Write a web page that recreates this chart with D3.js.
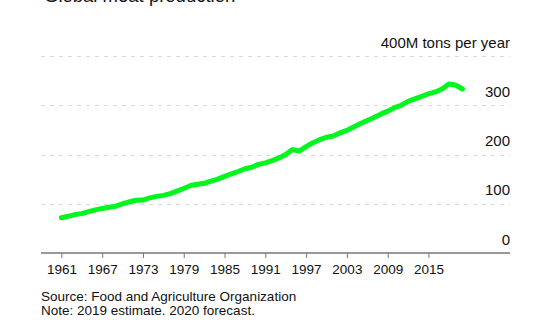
<!DOCTYPE html>
<html><head><meta charset="utf-8">
<script src="https://cdn.jsdelivr.net/npm/d3@7"></script>
<style>
html,body{margin:0;padding:0;background:#fff;}
svg text{font-family:"Liberation Sans",Arial,Helvetica,sans-serif;fill:#111;}
</style></head>
<body>
<svg id="c" width="545" height="325"></svg>
<script>
const title = "Global meat production";
const unitLabel = "400M tons per year";
const years = d3.range(1961, 2021);
const production = [71.5, 74.5, 78, 80, 84, 87.5, 90.5, 93, 95, 100,
  104, 107, 107.5, 112, 115, 117, 120.5, 125.5, 131, 137,
  139.5, 141.5, 146, 150, 155.5, 160.5, 165.5, 171, 174, 180,
  183, 187.5, 193, 200, 210, 207, 216, 224, 230, 235,
  237.5, 244, 249, 256, 263, 269, 275, 282, 288, 295,
  300, 308, 313, 318, 323, 327, 333, 343, 341, 333];
const yTicks = [0, 100, 200, 300, 400];
const yTickLabels = ["0", "100", "200", "300", "400M tons per year"];
const xTicks = [1961, 1967, 1973, 1979, 1985, 1991, 1997, 2003, 2009, 2015];
const sourceLines = ["Source: Food and Agriculture Organization", "Note: 2019 estimate. 2020 forecast."];

const svg = d3.select("#c");
const x = d3.scaleLinear().domain([1958, 2027]).range([41, 510]);
const y = d3.scaleLinear().domain([0, 400]).range([253, 56]);

svg.append("text").attr("x", 44).attr("y", 2).attr("font-size", 18.5).text(title);

// grid
svg.append("g").selectAll("line").data(yTicks.filter(d => d > 0)).join("line")
  .attr("x1", 41).attr("x2", 510)
  .attr("y1", d => Math.round(y(d)) + 0.5).attr("y2", d => Math.round(y(d)) + 0.5)
  .attr("stroke", "#d9d9d9").attr("stroke-width", 1).attr("stroke-dasharray", "4,5");

// y labels
svg.append("g").selectAll("text").data(yTicks).join("text")
  .attr("x", 510).attr("y", d => y(d) - 8.5)
  .attr("text-anchor", "end").attr("font-size", 15)
  .text((d, i) => yTickLabels[i]);

// x axis
const xAxis = d3.axisBottom(x).tickValues(xTicks).tickFormat(d3.format("d")).tickSize(5).tickPadding(6);
const gx = svg.append("g").attr("transform", "translate(0,253)").call(xAxis);
gx.select(".domain").attr("stroke", "#777").attr("stroke-width", 1.5).attr("d", "M41,0H510");
gx.selectAll(".tick line").attr("stroke", "#777");
gx.selectAll(".tick text").attr("font-size", 13.5).attr("fill", "#111")
  .attr("font-family", "Liberation Sans, Arial, sans-serif");

// line
const line = d3.line().x((d, i) => x(years[i])).y(d => y(d)).curve(d3.curveLinear);
svg.append("path").datum(production).attr("d", line)
  .attr("fill", "none").attr("stroke", "#00f71e").attr("stroke-width", 5)
  .attr("stroke-linejoin", "round").attr("stroke-linecap", "round");

// source
svg.append("g").selectAll("text").data(sourceLines).join("text")
  .attr("x", 41).attr("y", (d, i) => 300.5 + i * 14).attr("font-size", 13.5).text(d => d);
</script>
</body></html>
